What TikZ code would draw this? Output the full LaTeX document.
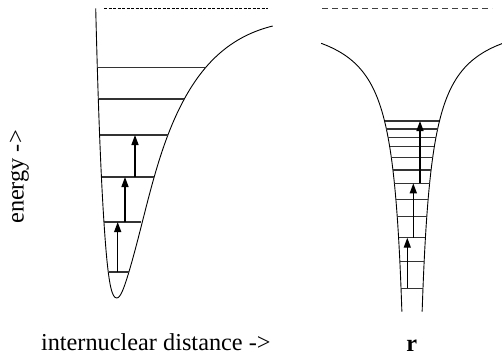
\documentclass[tikz,border=0pt]{standalone}
\usepackage{fontspec}
\setmainfont{Liberation Serif}
\usetikzlibrary{arrows.meta}

\begin{document}
\begin{tikzpicture}[x=1pt,y=-1pt,font=\fontsize{24.3}{28}\selectfont,>={Triangle[length=10pt,width=7pt]}]
    \tikzset{
      wall/.style={line width=0.9pt},
      level/.style={line width=1.1pt, draw=black!80},
      jump/.style={->, line width=1.4pt},
      limit/.style={line width=0.9pt, dash pattern=on 3pt off 1.5pt},
      coarse/.style={line width=1pt, draw=black!75, dash pattern=on 6pt off 4pt}
    }
    \useasboundingbox (0,0) rectangle (502,362);
    % left: anharmonic well
    \draw[wall] (95.7,8.3) .. controls (98,100) and (101,190) .. (106,250)
      .. controls (109,285) and (112,298) .. (116.7,298)
      .. controls (120.5,298) and (124,288) .. (128.3,274)
      .. controls (145.7,216.4) and (155.5,151.8) .. (184.3,99)
      .. controls (205.9,59.4) and (233.9,35.6) .. (272.7,26);
    \coordinate (da) at (104,8);
    \coordinate (db) at (268,8);
    \draw[limit] (da) -- (db);
    \foreach \y/\a/\b [count=\i] in {67.7/97.3/205.2, 99/99/184.3, 135/100.2/168.2, 177/101.9/154.4, 222/104.1/141.2, 272/108.8/129} {
      \coordinate (la\i) at (\a,\y);
      \coordinate (lb\i) at (\b,\y);
      \draw[level] (la\i) -- (lb\i);
    }
    \foreach \x/\p/\q [count=\i] in {117.7/272/222, 125/222/177, 135/177/135} {
      \coordinate (ja\i) at (\x,\p);
      \coordinate (jb\i) at (\x,\q);
      \draw[jump] (ja\i) -- (jb\i);
    }
    % right: coulomb well
    \draw[wall] plot[smooth, domain=43.3:311.7, samples=90, variable=\t] ({412-3060/(\t-9.6)},\t);
    \draw[wall] plot[smooth, domain=43.3:311.7, samples=90, variable=\t] ({412+3060/(\t-9.6)},\t);
    \coordinate (ra) at (322,8);
    \coordinate (rb) at (492,8);
    \draw[coarse] (ra) -- (rb);
    \foreach \y [count=\i] in {121,129,137.7,146.7,157.7,170,183.3,199.3,216.7,237.7,261.7,288.3} {
      \pgfmathsetmacro\d{3060/(\y-9.6)}
      \coordinate (ma\i) at (412-\d,\y);
      \coordinate (mb\i) at (412+\d,\y);
      \draw[level] (ma\i) -- (mb\i);
    }
    \foreach \x/\p/\q [count=\i] in {407.3/288.3/237.7, 413.3/237.7/183.3, 420/183.3/121} {
      \coordinate (ka\i) at (\x,\p);
      \coordinate (kb\i) at (\x,\q);
      \draw[jump] (ka\i) -- (kb\i);
    }
    \node[rotate=90, anchor=base] (energy) at (23.5,177) {energy ->};
    \node[anchor=base] (distance) at (155.8,350) {internuclear distance ->};
    \node[anchor=base] (rlabel) at (411.8,351) {\textbf{r}};
  \end{tikzpicture}
\end{document}
